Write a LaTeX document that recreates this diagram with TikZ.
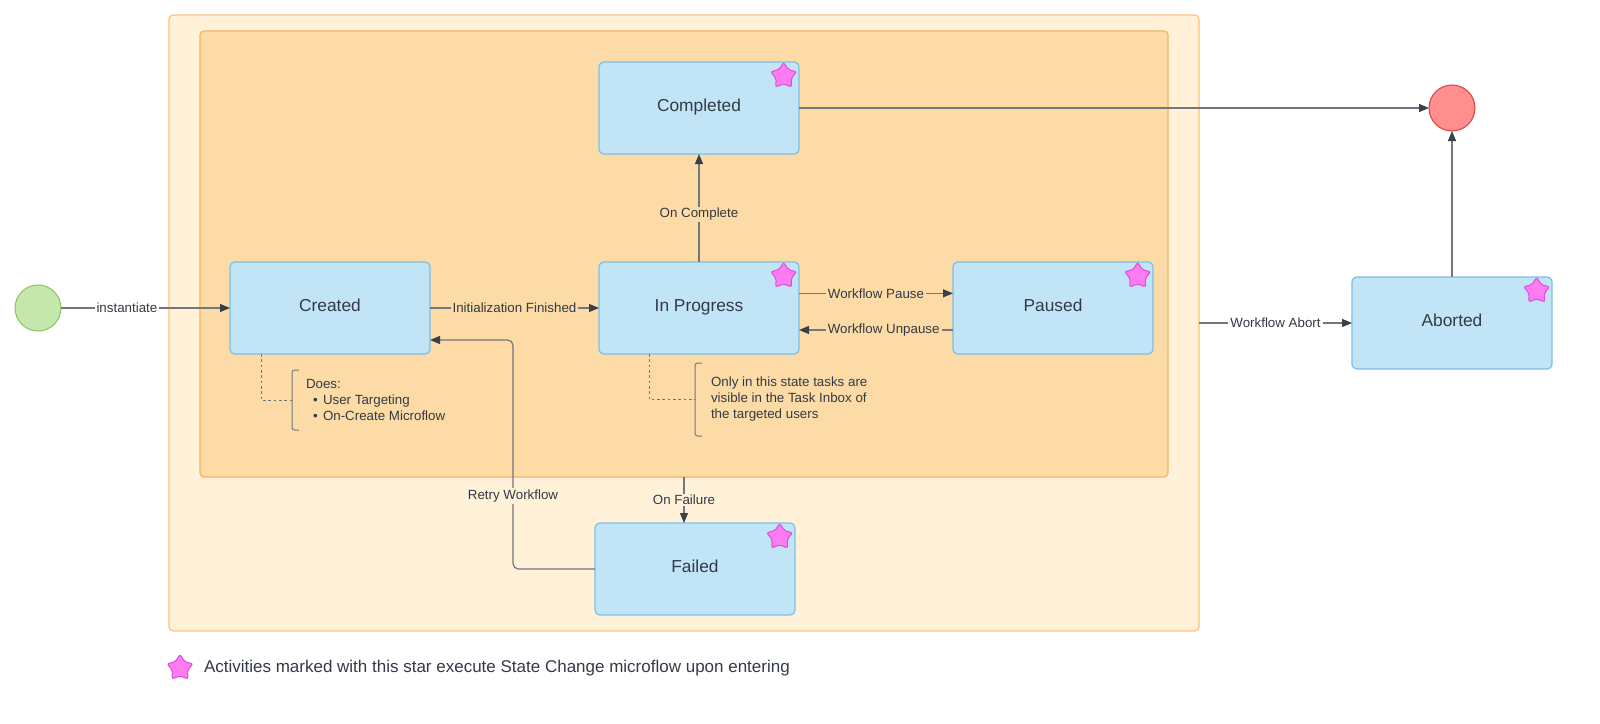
\documentclass[tikz,border=0pt]{standalone}
\usepackage{fontspec}
\setmainfont{Liberation Sans}
\usetikzlibrary{arrows.meta}
\usetikzlibrary{shapes.geometric}
\usetikzlibrary{calc}

\definecolor{outerfill}{HTML}{FFF2D9}
\definecolor{outerline}{HTML}{FFC27F}
\definecolor{innerfill}{HTML}{FDDBA6}
\definecolor{innerline}{HTML}{F7B264}
\definecolor{statefill}{HTML}{C1E4F7}
\definecolor{stateline}{HTML}{7DBFE6}
\definecolor{starfill}{HTML}{FF7BF0}
\definecolor{starline}{HTML}{D64FE0}
\definecolor{startfill}{HTML}{C7E8AC}
\definecolor{startline}{HTML}{82C55E}
\definecolor{endfill}{HTML}{FF8F8F}
\definecolor{endline}{HTML}{E23C3C}
\definecolor{txt}{HTML}{333A45}
\definecolor{wire}{HTML}{73777D}
\definecolor{tipcol}{HTML}{3A4049}

\begin{document}
\begin{tikzpicture}[x=0.75pt, y=-0.75pt,
    every node/.style={text=txt, outer sep=0pt},
    statebox/.style={rectangle, rounded corners=3.5pt, draw=stateline, fill=statefill, line width=0.9pt, minimum width=150pt, minimum height=69pt, inner sep=0pt, text height=0.72em, text depth=0.22em, font=\fontsize{13pt}{15pt}\selectfont},
    starmark/.style={star, star points=5, star point ratio=1.75, minimum size=20.5pt, inner sep=0pt, rounded corners=1.6pt, draw=starline, fill=starfill, line width=0.75pt},
    flow/.style={draw=wire, line width=0.9pt, -{Triangle[length=7.5pt, width=6pt, color=tipcol]}},
    lbl/.style={font=\fontsize{10pt}{12pt}\selectfont, inner xsep=1.5pt, inner ysep=1pt},
    notetext/.style={align=left, anchor=north west, inner ysep=0pt, font=\fontsize{10pt}{12pt}\selectfont},
    bracket/.style={draw=wire, line width=0.75pt, rounded corners=2pt},
    link/.style={draw=wire, line width=0.75pt, dashed, dash pattern=on 2pt off 2pt}
  ]
  \useasboundingbox (0,0) rectangle (1600,724);

  \node[draw=outerline, fill=outerfill, rounded corners=3pt, line width=0.9pt, minimum width=772.5pt, minimum height=462pt, inner sep=0pt] (outer) at (684,323) {};
  \node[draw=innerline, fill=innerfill, rounded corners=3pt, line width=0.9pt, minimum width=726pt, minimum height=334.5pt, inner sep=0pt] (inner) at (684,254) {};

  \node[circle, minimum size=34.5pt, inner sep=0pt, draw=startline, fill=startfill, line width=0.75pt] (start) at (38,308) {};
  \node[circle, minimum size=34.5pt, inner sep=0pt, draw=endline, fill=endfill, line width=0.75pt] (finish) at (1452,108) {};

  \node[statebox] (created) at (330,308) {Created};
  \node[statebox] (inprogress) at (699,308) {In Progress};
  \node[statebox] (paused) at (1053,308) {Paused};
  \node[statebox] (completed) at (699,108) {Completed};
  \node[statebox] (failed) at (695,569) {Failed};
  \node[statebox] (aborted) at (1452,323) {Aborted};

  \foreach \s in {completed, inprogress, paused, failed, aborted}
    \node[starmark] (star-\s) at ([xshift=-11.5pt, yshift=-10.5pt]\s.north east) {};

  \draw[flow] (start) -- node[lbl, fill=white, pos=0.39] {instantiate} (created);
  \draw[flow] (created) -- node[lbl, fill=innerfill] {Initialization Finished} (inprogress);
  \draw[flow] (inprogress) -- node[lbl, fill=innerfill, pos=0.44] {On Complete} (completed);
  \draw[flow] ([yshift=11pt]inprogress.east) -- node[lbl, fill=innerfill] {Workflow Pause} ([yshift=11pt]paused.west);
  \draw[flow] ([yshift=-16.5pt]paused.west) -- node[lbl, fill=innerfill, pos=0.45] {Workflow Unpause} ([yshift=-16.5pt]inprogress.east);
  \draw[flow] (completed) -- (finish);
  \draw[flow] (aborted) -- (finish);
  \draw[flow] (inner.south) -- node[lbl, fill=outerfill] {On Failure} (inner.south |- failed.north);
  \draw[flow] (outer.east |- aborted.west) -- node[lbl, fill=white] {Workflow Abort} (aborted.west);
  \draw[flow, rounded corners=4pt] (failed.west) -| ([xshift=62.25pt, yshift=-24pt]created.east) -- ([yshift=-24pt]created.east);
  \node[lbl, fill=outerfill] (retry) at (513,496) {Retry Workflow};

  \node[notetext, inner xsep=10.5pt, minimum height=45pt] (cnote) at (292,370) {Does:\\\hspace*{5.25pt}\textbullet\hspace{4pt}User Targeting\\\hspace*{5.25pt}\textbullet\hspace{4pt}On-Create Microflow};
  \draw[bracket] ([xshift=5.25pt]cnote.north west) -- (cnote.north west) -- (cnote.south west) -- ([xshift=5.25pt]cnote.south west);
  \draw[link] ([xshift=23.25pt]created.south west) |- (cnote.west);

  \node[notetext, inner xsep=12pt, minimum height=54.75pt] (pnote) at (695,363) {Only in this state tasks are\\visible in the Task Inbox of\\the targeted users};
  \draw[bracket] ([xshift=5.25pt]pnote.north west) -- (pnote.north west) -- (pnote.south west) -- ([xshift=5.25pt]pnote.south west);
  \draw[link] ([xshift=37.5pt]inprogress.south west) |- (pnote.west);

  \node[starmark] (legendstar) at (180,668) {};
  \node[anchor=west, inner sep=0pt, font=\fontsize{12.75pt}{15pt}\selectfont] (legend) at (204,668) {Activities marked with this star execute State Change microflow upon entering};
\end{tikzpicture}
\end{document}
